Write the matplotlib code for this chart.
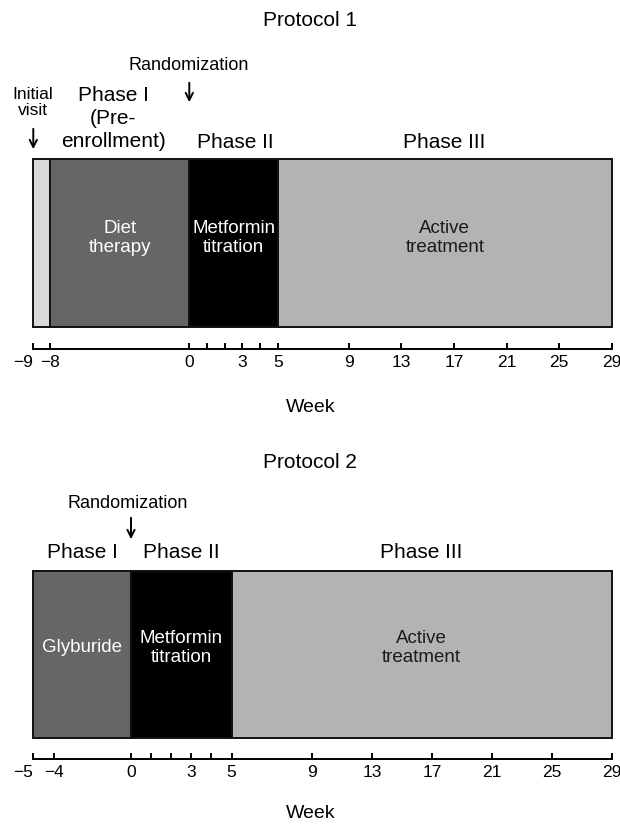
import numpy as np
import matplotlib
matplotlib.use("Agg")
import matplotlib.pyplot as plt
from matplotlib.transforms import ScaledTranslation

plt.rcParams['font.family'] = ['Liberation Sans', 'DejaVu Sans']

W, H = 620, 825

# ---- data ----
p1_starts = [-9, -8, 0, 5]
p1_ends = [-8, 0, 5, 29]
p1_colors = ["#d9d9d9", "#666666", "#000000", "#b3b3b3"]
p1_inner = ["", "Diet\ntherapy", "Metformin\ntitration", "Active\ntreatment"]
p1_inner_colors = ["black", "white", "white", "#1a1a1a"]
p1_major = [-9, -8, 0, 3, 5, 9, 13, 17, 21, 25, 29]
p1_minor = [1, 2, 4]
# piecewise axis (week -> pixel), the original axis is compressed after week 9
p1_scale_weeks = [-9, -8, 0, 9, 29]
p1_scale_pix = [33.3, 50.3, 189.3, 348.7, 611.7]

p2_starts = [-5, 0, 5]
p2_ends = [0, 5, 29]
p2_colors = ["#666666", "#000000", "#b3b3b3"]
p2_inner = ["Glyburide", "Metformin\ntitration", "Active\ntreatment"]
p2_inner_colors = ["white", "white", "#1a1a1a"]
p2_major = [-5, -4, 0, 3, 5, 9, 13, 17, 21, 25, 29]
p2_minor = [1, 2, 4]
p2_scale_weeks = [-5, -4, 0, 9, 29]
p2_scale_pix = [33.3, 53.7, 131.0, 312.0, 611.7]

fig = plt.figure(figsize=(W / 100, H / 100), dpi=100)


def ftext(x, y, s, **kw):
    fig.text(x / W, 1 - y / H, s, ha='center', va='center', **kw)


def farrow(x, y0, y1):
    fig.patches.append(matplotlib.patches.FancyArrowPatch(
        (x / W, 1 - y0 / H), (x / W, 1 - y1 / H), transform=fig.transFigure,
        arrowstyle='->', lw=1.4, color='black', mutation_scale=13))


def make_axes(x0, x1, ytop, ybot):
    return fig.add_axes([x0 / W, 1 - ybot / H, (x1 - x0) / W, (ybot - ytop) / H])


def setup(ax, weeks, pix, major, minor, ytop, axis_y, first_shift):
    fwd = lambda v: np.interp(v, weeks, pix)
    inv = lambda v: np.interp(v, pix, weeks)
    ax.set_xscale('function', functions=(fwd, inv))
    ax.set_xlim(weeks[0], weeks[-1])
    ax.set_ylim(axis_y, ytop)
    for s in ['top', 'left', 'right']:
        ax.spines[s].set_visible(False)
    ax.spines['bottom'].set_linewidth(1.4)
    ax.set_yticks([])
    ax.set_xticks(major)
    labels = ax.set_xticklabels([str(m).replace('-', '\u2212') for m in major],
                                fontsize=12.5)
    ax.set_xticks(minor, minor=True)
    ax.tick_params(axis='x', which='both', direction='in', length=4, width=1.4, pad=4)
    ax.patch.set_alpha(0)
    lab = labels[0]
    lab.set_transform(lab.get_transform() +
                      ScaledTranslation(first_shift / 100, 0, fig.dpi_scale_trans))


def draw_bar(ax, weeks, pix, starts, ends, colors, inner, inner_colors, ytop, ybot, ytext):
    for s, e, c in zip(starts, ends, colors):
        ax.barh((ytop + ybot) / 2, e - s, left=s, height=ybot - ytop, color=c,
                edgecolor='#111111', linewidth=1.4, clip_on=False)
    for s, e, t, tc in zip(starts, ends, inner, inner_colors):
        if t:
            xm = (np.interp(s, weeks, pix) + np.interp(e, weeks, pix)) / 2
            ftext(xm, ytext, t, color=tc, fontsize=13.5, linespacing=1.2)


# ---------------- Protocol 1 ----------------
ax1 = make_axes(p1_scale_pix[0], p1_scale_pix[-1], 150, 349)
setup(ax1, p1_scale_weeks, p1_scale_pix, p1_major, p1_minor, 150, 349, -10)
draw_bar(ax1, p1_scale_weeks, p1_scale_pix, p1_starts, p1_ends, p1_colors,
         p1_inner, p1_inner_colors, 159, 326.7, 238)

ftext(310, 20, "Protocol 1", fontsize=15)
ftext(311, 407, "Week", fontsize=14)
ftext(189, 65, "Randomization", fontsize=13)
farrow(189.3, 80, 105)
ftext(33, 102.5, "Initial\nvisit", fontsize=12.5, linespacing=1.1)
farrow(33.3, 126, 152)
ftext(113, 118.5, "Phase I\n(Pre-\nenrollment)", fontsize=15, linespacing=1.27)
ftext(235, 143, "Phase II", fontsize=15)
ftext(444, 143, "Phase III", fontsize=15)

# ---------------- Protocol 2 ----------------
ax2 = make_axes(p2_scale_pix[0], p2_scale_pix[-1], 560, 759)
setup(ax2, p2_scale_weeks, p2_scale_pix, p2_major, p2_minor, 560, 759, -10)
draw_bar(ax2, p2_scale_weeks, p2_scale_pix, p2_starts, p2_ends, p2_colors,
         p2_inner, p2_inner_colors, 570.5, 738, 648)

ftext(310, 463, "Protocol 2", fontsize=15)
ftext(311, 813, "Week", fontsize=14)
ftext(128, 503, "Randomization", fontsize=13)
farrow(131, 515, 542)
ftext(82, 553, "Phase I", fontsize=15)
ftext(181, 553, "Phase II", fontsize=15)
ftext(421, 553, "Phase III", fontsize=15)

fig.savefig("out.png", dpi=100)
